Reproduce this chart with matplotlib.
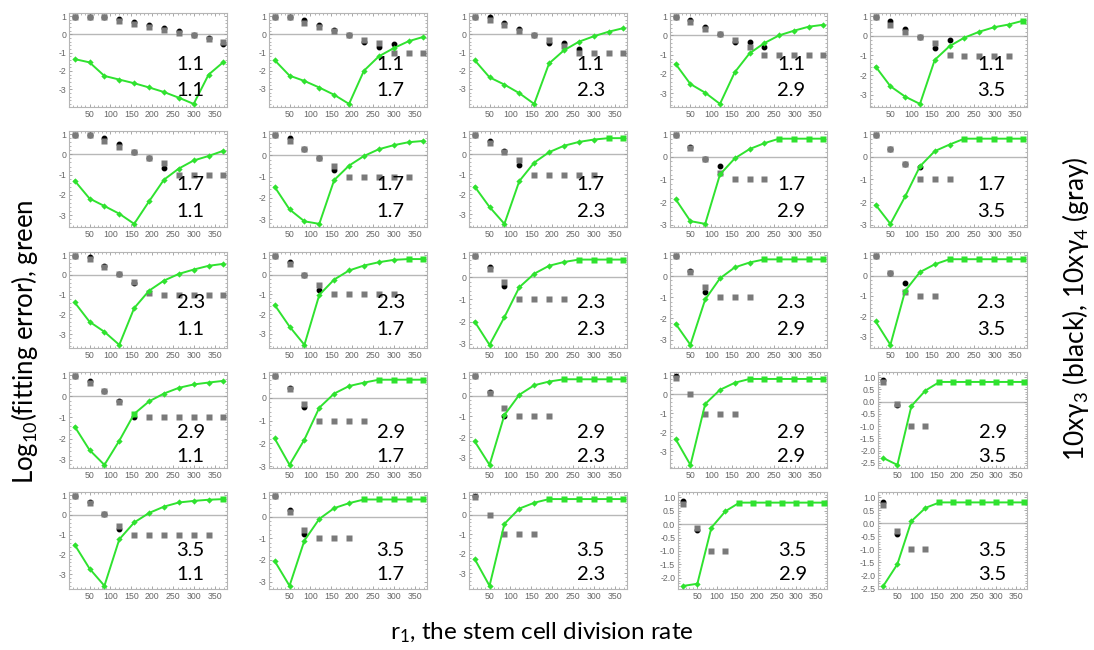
import numpy as np
import matplotlib
matplotlib.use("Agg")
import matplotlib.pyplot as plt
from matplotlib.ticker import MultipleLocator, FormatStrFormatter, AutoMinorLocator

plt.rcParams['mathtext.default'] = 'regular'
plt.rcParams['axes.unicode_minus'] = False

N = np.nan

# r1 values (x positions of the 11 points)
r1 = [14.5, 50, 85.5, 121, 156.5, 192, 227.5, 263, 298.5, 334, 369.5]
x_ticks = [50, 100, 150, 200, 250, 300, 350]

# panel labels: row parameter (top number) and column parameter (bottom number)
row_params = ["1.1", "1.7", "2.3", "2.9", "3.5"]
col_params = ["1.1", "1.7", "2.3", "2.9", "3.5"]

# ---- Log10(fitting error), green ----
green_row1 = [
    [-1.35, -1.53, -2.27, -2.47, -2.67, -2.90, -3.15, -3.46, -3.80, -2.20, -1.51],
    [-1.42, -2.27, -2.56, -2.92, -3.32, -3.82, -2.00, -1.21, -0.76, -0.38, -0.14],
    [-1.42, -2.36, -2.76, -3.23, -3.82, -1.60, -0.88, -0.41, -0.11, 0.14, 0.34],
    [-1.48, -2.52, -2.97, -3.55, -1.91, -0.93, -0.40, 0.00, 0.24, 0.45, 0.55],
    [-1.57, -2.57, -3.10, -3.47, -1.23, -0.53, -0.10, 0.20, 0.43, 0.57, 0.77],
]
green_row2 = [
    [-1.30, -2.18, -2.55, -2.93, -3.43, -2.32, -1.25, -0.70, -0.30, -0.08, 0.18],
    [-1.48, -2.54, -3.10, -3.22, -1.16, -0.48, -0.03, 0.29, 0.48, 0.62, 0.68],
    [-1.61, -2.63, -3.47, -1.34, -0.42, 0.10, 0.42, 0.61, 0.73, 0.80, 0.80],
    [-1.87, -2.84, -2.96, -0.78, -0.07, 0.34, 0.60, 0.80, 0.80, 0.80, 0.80],
    [-2.12, -2.96, -1.75, -0.42, 0.25, 0.54, 0.80, 0.80, 0.80, 0.80, 0.80],
]
green_row3 = [
    [-1.39, -2.37, -2.88, -3.54, -1.68, -0.80, -0.29, 0.05, 0.27, 0.46, 0.56],
    [-1.53, -2.63, -3.56, -1.02, -0.24, 0.22, 0.47, 0.64, 0.76, 0.80, 0.80],
    [-2.00, -3.05, -1.80, -0.45, 0.16, 0.52, 0.69, 0.80, 0.80, 0.80, 0.80],
    [-2.25, -3.25, -1.10, -0.10, 0.42, 0.65, 0.80, 0.80, 0.80, 0.80, 0.80],
    [-2.25, -3.40, -0.75, 0.17, 0.55, 0.80, 0.80, 0.80, 0.80, 0.80, 0.80],
]
green_row4 = [
    [-1.43, -2.54, -3.24, -2.10, -0.83, -0.24, 0.13, 0.40, 0.56, 0.65, 0.73],
    [-1.78, -2.94, -1.83, -0.43, 0.19, 0.52, 0.67, 0.80, 0.80, 0.80, 0.80],
    [-2.20, -3.34, -0.93, 0.05, 0.51, 0.69, 0.80, 0.80, 0.80, 0.80, 0.80],
    [-2.35, -3.70, -0.51, 0.23, 0.60, 0.80, 0.80, 0.80, 0.80, 0.80, 0.80],
    [-2.30, -2.58, -0.18, 0.45, 0.80, 0.80, 0.80, 0.80, 0.80, 0.80, 0.80],
]
green_row5 = [
    [-1.50, -2.71, -3.58, -1.23, -0.38, 0.10, 0.42, 0.63, 0.71, 0.77, 0.80],
    [-2.05, -3.20, -1.10, -0.10, 0.40, 0.63, 0.80, 0.80, 0.80, 0.80, 0.80],
    [-2.27, -3.65, -0.47, 0.31, 0.61, 0.80, 0.80, 0.80, 0.80, 0.80, 0.80],
    [-2.30, -2.22, -0.13, 0.48, 0.80, 0.80, 0.80, 0.80, 0.80, 0.80, 0.80],
    [-2.40, -1.57, 0.08, 0.59, 0.80, 0.80, 0.80, 0.80, 0.80, 0.80, 0.80],
]

# ---- 10 x gamma_4 (gray squares) ----
gray_row1 = [
    [0.97, 0.97, 0.97, 0.72, 0.56, 0.41, 0.23, 0.10, -0.04, -0.25, -0.40],
    [0.97, 0.97, 0.61, 0.38, 0.16, -0.02, -0.29, -0.47, -1.03, -1.03, -1.03],
    [0.97, 0.80, 0.50, 0.20, -0.04, -0.29, -0.65, -1.03, -1.03, -1.03, -1.03],
    [0.97, 0.70, 0.35, 0.05, -0.24, -0.62, -1.03, -1.03, -1.03, -1.03, -1.03],
    [0.97, 0.57, 0.20, -0.07, -0.38, -0.98, -1.03, -1.03, -1.03, -1.03, 0.77],
]
gray_row2 = [
    [0.97, 0.97, 0.68, 0.38, 0.14, -0.20, -0.41, -1.03, -1.03, -1.03, -1.03],
    [0.97, 0.68, 0.29, -0.11, -0.48, -1.03, -1.03, -1.03, -1.03, -1.03, N],
    [0.97, 0.58, 0.10, -0.29, -1.03, -1.03, -1.03, -1.03, -1.03, 0.80, 0.80],
    [0.97, 0.37, -0.10, -0.70, -1.00, -1.00, -1.00, 0.80, 0.80, 0.80, 0.80],
    [0.97, 0.34, -0.30, -1.00, -1.00, -1.00, 0.80, 0.80, 0.80, 0.80, 0.80],
]
gray_row3 = [
    [0.97, 0.82, 0.39, 0.05, -0.37, -0.90, -1.00, -1.00, -1.00, -1.00, -1.00],
    [0.97, 0.57, 0.00, -0.51, -1.00, -1.00, -1.00, -1.00, -1.00, 0.80, 0.80],
    [0.97, 0.36, -0.23, -1.00, -1.00, -1.00, -1.00, 0.80, 0.80, 0.80, 0.80],
    [0.97, 0.20, -0.50, -1.00, -1.00, -1.00, 0.80, 0.80, 0.80, 0.80, 0.80],
    [0.97, 0.12, -0.83, -1.00, -1.00, 0.80, 0.80, 0.80, 0.80, 0.80, 0.80],
]
gray_row4 = [
    [0.97, 0.63, 0.24, -0.27, -0.83, -1.00, -1.00, -1.00, -1.00, -1.00, -1.00],
    [0.97, 0.37, -0.25, -1.00, -1.00, -1.00, -1.00, 0.80, 0.80, 0.80, 0.80],
    [0.97, 0.13, -0.57, -1.00, -1.00, -1.00, 0.80, 0.80, 0.80, 0.80, 0.80],
    [0.86, 0.00, -1.03, -1.03, -1.03, 0.80, 0.80, 0.80, 0.80, 0.80, 0.80],
    [0.78, -0.11, -1.00, -1.00, 0.80, 0.80, 0.80, 0.80, 0.80, 0.80, 0.80],
]
gray_row5 = [
    [0.97, 0.60, 0.05, -0.55, -1.00, -1.00, -1.00, -1.00, -1.00, -1.00, 0.80],
    [0.97, 0.23, -0.60, -1.00, -1.00, -1.00, 0.80, 0.80, 0.80, 0.80, 0.80],
    [0.93, 0.00, -1.00, -1.00, -1.00, 0.80, 0.80, 0.80, 0.80, 0.80, 0.80],
    [0.76, -0.16, -1.00, -1.00, 0.80, 0.80, 0.80, 0.80, 0.80, 0.80, 0.80],
    [0.70, -0.28, -1.00, -1.00, 0.80, 0.80, 0.80, 0.80, 0.80, 0.80, 0.80],
]

# ---- 10 x gamma_3 (black dots) ----
black_row1 = [
    [0.97, 0.97, 0.97, 0.85, 0.68, 0.50, 0.34, 0.16, -0.02, -0.22, -0.50],
    [0.97, 0.97, 0.80, 0.50, 0.25, -0.02, -0.40, -0.72, -0.55, N, N],
    [0.97, 0.95, 0.62, 0.30, -0.04, -0.45, -0.45, -0.80, N, N, N],
    [0.97, 0.80, 0.45, 0.05, -0.35, -0.35, -0.60, N, N, N, N],
    [0.97, 0.75, 0.33, -0.07, -0.63, -0.20, N, N, N, N, N],
]
black_row2 = [
    [0.97, 0.97, 0.80, 0.50, 0.14, -0.20, -0.65, N, N, N, N],
    [0.97, 0.83, 0.30, -0.11, -0.70, N, N, N, N, N, N],
    [0.97, 0.68, 0.15, -0.53, N, N, N, N, N, N, N],
    [0.97, 0.45, -0.10, -0.40, N, N, N, N, N, N, N],
    [0.97, 0.34, -0.30, -0.45, N, N, N, N, N, N, N],
]
black_row3 = [
    [0.97, 0.90, 0.45, 0.05, -0.42, N, N, N, N, N, N],
    [0.97, 0.65, 0.00, -0.75, N, N, N, N, N, N, N],
    [0.97, 0.45, -0.40, N, N, N, N, N, N, N, N],
    [0.97, 0.25, -0.75, N, N, N, N, N, N, N, N],
    [0.97, 0.10, -0.35, N, N, N, N, N, N, N, N],
]
black_row4 = [
    [0.97, 0.72, 0.27, -0.23, -1.00, N, N, N, N, N, N],
    [0.97, 0.45, -0.40, N, N, N, N, N, N, N, N],
    [0.97, 0.20, -1.00, N, N, N, N, N, N, N, N],
    [0.95, N, N, N, N, N, N, N, N, N, N],
    [0.89, -0.14, N, N, N, N, N, N, N, N, N],
]
black_row5 = [
    [0.97, 0.65, 0.05, -0.72, N, N, N, N, N, N, N],
    [0.97, 0.30, -0.80, N, N, N, N, N, N, N, N],
    [0.97, N, N, N, N, N, N, N, N, N, N],
    [0.86, -0.23, N, N, N, N, N, N, N, N, N],
    [0.81, -0.41, N, N, N, N, N, N, N, N, N],
]

green_rows = [green_row1, green_row2, green_row3, green_row4, green_row5]
gray_rows = [gray_row1, gray_row2, gray_row3, gray_row4, gray_row5]
black_rows = [black_row1, black_row2, black_row3, black_row4, black_row5]

# ---------------- layout ----------------
W, H = 1094, 650
fig = plt.figure(figsize=(W / 100, H / 100), dpi=100)
col_px = [(69, 227), (269, 427), (469, 627), (670, 827), (870, 1027)]
row_px = [(13, 107), (131, 227), (252, 348), (372, 468), (492, 589)]
label_y = [(0.45, 0.18), (0.44, 0.16), (0.47, 0.19), (0.375, 0.115), (0.40, 0.145)]

GREEN = '#2fe22f'
GRAYC = '#7a7a7a'
TICKC = '#666666'
FRAMEC = '#b5b5b5'

for i in range(5):
    for j in range(5):
        g = np.array(green_rows[i][j], dtype=float)
        gr = np.array(gray_rows[i][j], dtype=float)
        bk = np.array(black_rows[i][j], dtype=float)
        x = np.array(r1)
        allv = np.concatenate([g, gr[~np.isnan(gr)], bk[~np.isnan(bk)]])
        lo = allv.min()
        hi = max(1.0, allv.max())
        rng = hi - lo
        half = rng < 3.8
        x0, x1 = col_px[j]
        if half:
            x0 += 8
        y0, y1 = row_px[i]
        ax = fig.add_axes([x0 / W, 1 - y1 / H, (x1 - x0) / W, (y1 - y0) / H])
        pad = 0.035 * rng
        ax.set_ylim(lo - pad, hi + pad + (0.08 if half else 0.0))
        ax.set_xlim(1, 378)
        ax.axhline(0, color='#b8b8b8', lw=1.0, zorder=1)
        ax.plot(x, bk, 'o', color='black', ms=3.2, zorder=2, ls='none')
        ov = np.abs(gr - g) < 0.06
        ax.plot(x[~ov], gr[~ov], 's', color=GRAYC, ms=4.2, zorder=3, ls='none', mec='none')
        ax.plot(x, g, '-', color=GREEN, lw=1.4, zorder=4)
        ax.plot(x[~ov], g[~ov], 'D', color=GREEN, ms=3.2, zorder=5, ls='none', mec='none')
        ax.plot(x[ov], g[ov], 's', color=GREEN, ms=4.4, zorder=5, ls='none', mec='none')
        ax.set_xticks(x_ticks)
        ax.xaxis.set_minor_locator(AutoMinorLocator(5))
        if half:
            ax.yaxis.set_major_locator(MultipleLocator(0.5))
            ax.yaxis.set_major_formatter(FormatStrFormatter('%.1f'))
            ax.yaxis.set_minor_locator(AutoMinorLocator(5))
        else:
            ax.yaxis.set_major_locator(MultipleLocator(1))
            ax.yaxis.set_major_formatter(FormatStrFormatter('%d'))
            ax.yaxis.set_minor_locator(AutoMinorLocator(5))
        ax.tick_params(which='both', direction='in', top=True, right=True,
                       color='#999999', labelcolor=TICKC, labelsize=6.3, pad=2)
        ax.tick_params(which='major', length=2.5, width=0.6)
        ax.tick_params(which='minor', length=1.3, width=0.5)
        for lab in ax.get_xticklabels() + ax.get_yticklabels():
            lab.set_family('Liberation Sans')
        for s in ax.spines.values():
            s.set_color(FRAMEC)
            s.set_linewidth(0.8)
        ly = label_y[i]
        ax.text(0.77, ly[0], row_params[i], transform=ax.transAxes, ha='center', va='center',
                fontsize=14.5, family='Lato', color='black', zorder=6)
        ax.text(0.77, ly[1], col_params[j], transform=ax.transAxes, ha='center', va='center',
                fontsize=14.5, family='Lato', color='black', zorder=6)

fig.text(0.022, 0.474, 'Log$_{10}$(fitting error), green', rotation=90, ha='center', va='center',
         fontsize=18.5, family='Lato', color='black')
fig.text(0.983, 0.525, '10x\u03b3$_3$ (black), 10x\u03b3$_4$ (gray)', rotation=90, ha='center', va='center',
         fontsize=19, family='Lato', color='black')
fig.text(0.495, 0.027, 'r$_1$, the stem cell division rate', ha='center', va='center',
         fontsize=17.5, family='Lato', color='black')

fig.savefig('out.png', dpi=100)
